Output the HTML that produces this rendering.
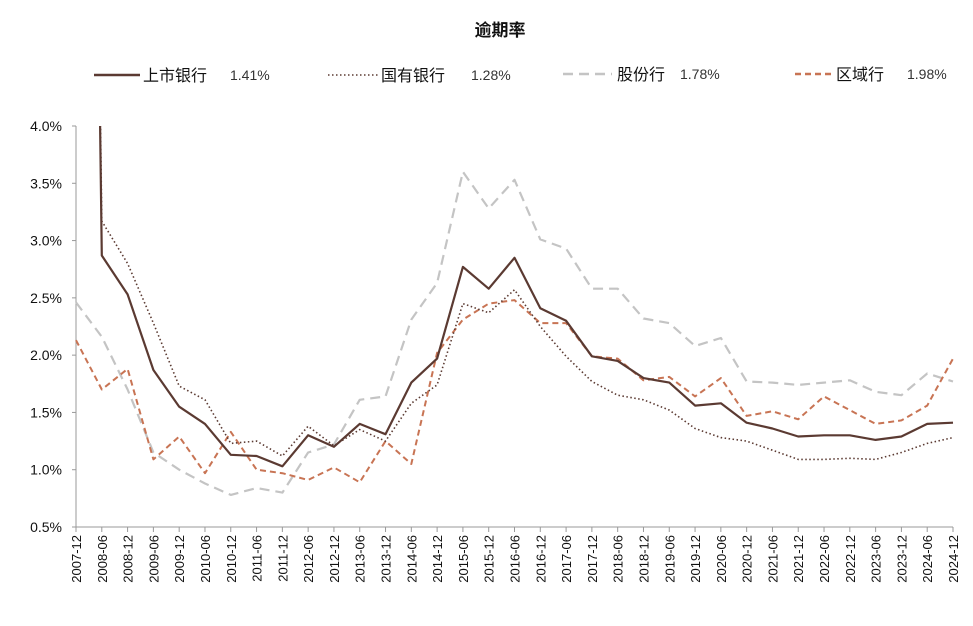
<!DOCTYPE html>
<html><head><meta charset="utf-8"><style>
body{margin:0;background:#fff;}
svg{display:block;font-family:"Liberation Sans","Noto Sans CJK SC",sans-serif;}
</style></head><body>
<svg id="chart" width="973" height="626" viewBox="0 0 973 626" xmlns="http://www.w3.org/2000/svg">
<text x="500" y="36" text-anchor="middle" font-size="17" font-weight="bold" fill="#111">逾期率</text>
<g font-size="16" fill="#111">
 <g>
  <line x1="94" y1="75" x2="140" y2="75" stroke="#5b3a32" stroke-width="2.5"/>
  <text x="143" y="81">上市银行</text><text x="230" y="80" font-size="14" fill="#333">1.41%</text>
 </g>
 <g>
  <line x1="328" y1="75" x2="378" y2="75" stroke="#5b3a32" stroke-width="1.6" stroke-dasharray="1.5,2.5"/>
  <text x="381" y="81">国有银行</text><text x="471" y="80" font-size="14" fill="#333">1.28%</text>
 </g>
 <g>
  <line x1="563" y1="74" x2="612" y2="74" stroke="#c4c4c4" stroke-width="2.5" stroke-dasharray="10,6"/>
  <text x="617" y="80">股份行</text><text x="680" y="79" font-size="14" fill="#333">1.78%</text>
 </g>
 <g>
  <line x1="795" y1="74" x2="832" y2="74" stroke="#c87454" stroke-width="2.5" stroke-dasharray="6,4"/>
  <text x="836" y="80">区域行</text><text x="907" y="79" font-size="14" fill="#333">1.98%</text>
 </g>
</g>
<g id="axes"></g>
<g id="series"></g>
</svg>
<script>
const categories=["2007-12","2008-06","2008-12","2009-06","2009-12","2010-06","2010-12","2011-06","2011-12","2012-06","2012-12","2013-06","2013-12","2014-06","2014-12","2015-06","2015-12","2016-06","2016-12","2017-06","2017-12","2018-06","2018-12","2019-06","2019-12","2020-06","2020-12","2021-06","2021-12","2022-06","2022-12","2023-06","2023-12","2024-06","2024-12"];
const listedBanks=[20,2.87,2.53,1.87,1.55,1.40,1.13,1.12,1.03,1.30,1.20,1.40,1.31,1.76,1.97,2.77,2.58,2.85,2.41,2.30,1.99,1.95,1.80,1.76,1.56,1.58,1.41,1.36,1.29,1.30,1.30,1.26,1.29,1.40,1.41];
const stateBanks=[20,3.17,2.80,2.28,1.73,1.61,1.23,1.25,1.12,1.38,1.21,1.35,1.25,1.58,1.74,2.45,2.37,2.57,2.25,1.99,1.77,1.65,1.61,1.52,1.36,1.28,1.25,1.17,1.09,1.09,1.10,1.09,1.15,1.23,1.28];
const jointStockBanks=[2.46,2.16,1.70,1.15,1.00,0.88,0.78,0.84,0.80,1.15,1.22,1.61,1.64,2.31,2.63,3.60,3.28,3.53,3.01,2.93,2.58,2.58,2.32,2.28,2.08,2.15,1.77,1.76,1.74,1.76,1.78,1.68,1.65,1.84,1.77];
const regionalBanks=[2.13,1.70,1.88,1.09,1.29,0.97,1.33,1.00,0.97,0.91,1.02,0.89,1.25,1.05,2.02,2.31,2.45,2.48,2.28,2.28,1.99,1.97,1.78,1.81,1.64,1.80,1.47,1.51,1.44,1.64,1.52,1.40,1.43,1.56,1.97];
const yTicks=[0.5,1.0,1.5,2.0,2.5,3.0,3.5,4.0];

const NS="http://www.w3.org/2000/svg";
const X0=76,X1=953,Y0=527,Y1=126,YMIN=0.5,YMAX=4.0;
function xPos(i){return X0+(X1-X0)*i/(categories.length-1);}
function yPos(v){return Y0-(v-YMIN)/(YMAX-YMIN)*(Y0-Y1);}
function mk(tag,attrs,parent){const e=document.createElementNS(NS,tag);for(const k in attrs)e.setAttribute(k,attrs[k]);parent.appendChild(e);return e;}
const axes=document.getElementById('axes'),series=document.getElementById('series');
const svg=document.getElementById('chart');
const clip=mk('clipPath',{id:'plotclip'},svg);
mk('rect',{x:X0-2,y:Y1,width:X1-X0+6,height:Y0-Y1+2},clip);

const yAxis=mk('line',{x1:X0,y1:Y1,x2:X0,y2:Y0,stroke:'#999','stroke-width':1},axes);


const xAxis=mk('line',{x1:X0,y1:Y0,x2:X1,y2:Y0,stroke:'#999','stroke-width':1},axes);


yTicks.forEach(v=>{
  const y=yPos(v);
  mk('line',{x1:X0-4,y1:y,x2:X0,y2:y,stroke:'#999'},axes);
  const t=mk('text',{x:X0-14,y:y+5,'text-anchor':'end','font-size':14,fill:'#111'},axes);
  t.textContent=v.toFixed(1)+'%';
  
  
});
categories.forEach((c,i)=>{
  const x=xPos(i);
  mk('line',{x1:x,y1:Y0,x2:x,y2:Y0+5,stroke:'#999'},axes);
  const t=mk('text',{x:0,y:0,'text-anchor':'end','font-size':13,fill:'#111',transform:`translate(${x+5},${Y0+8}) rotate(-90)`},axes);
  t.textContent=c;
  
  
});
function line(vals,style,name){
  const d=vals.map((v,i)=>(i?'L':'M')+xPos(i).toFixed(1)+','+yPos(v).toFixed(1)).join(' ');
  const p=mk('path',Object.assign({d:d,fill:'none','clip-path':'url(#plotclip)','stroke-linejoin':'round'},style),series);
  
  
}
line(jointStockBanks,{stroke:'#c4c4c4','stroke-width':2.2,'stroke-dasharray':'10,6'},'series-joint-stock-banks');
line(regionalBanks,{stroke:'#c87454','stroke-width':2,'stroke-dasharray':'6,4'},'series-regional-banks');
line(stateBanks,{stroke:'#5b3a32','stroke-width':1.6,'stroke-dasharray':'1.5,2.5'},'series-state-banks');
line(listedBanks,{stroke:'#5b3a32','stroke-width':2.2},'series-listed-banks');
</script>
</body></html>
